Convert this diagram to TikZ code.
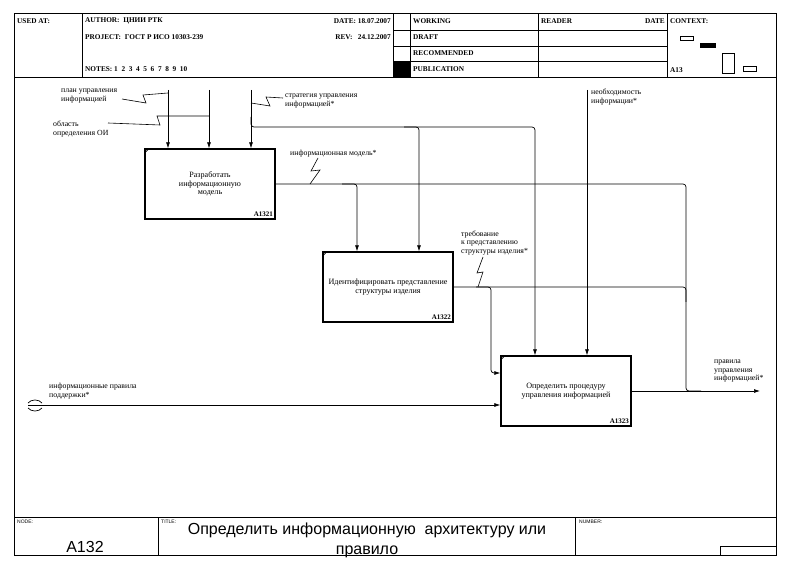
\documentclass[tikz,border=0pt]{standalone}
\usepackage{fontspec}
\setmainfont{Liberation Serif}
\newfontfamily\sansfont{Liberation Sans}
\usetikzlibrary{
  arrows.meta,
  calc
}
\tikzset{
  func/.style={
    draw,
    line width=1.3pt,
    minimum width=130pt,
    minimum height=70pt,
    align=center,
    inner sep=0pt,
    font=\fontsize{8.1}{8.7}\selectfont},
  boxid/.style={anchor=south east, inner sep=2.5pt, font=\bfseries\fontsize{7}{7}\selectfont},
  lbl/.style={anchor=west, align=left, inner sep=0pt, font=\fontsize{7.8}{8.3}\selectfont},
  hdr/.style={anchor=west, inner sep=0pt, font=\bfseries\fontsize{7.3}{7.5}\selectfont},
  tiny/.style={anchor=north west, inner sep=0pt, font=\sansfont\fontsize{5}{5}\selectfont},
  arr/.style={-{Latex[length=6pt,width=4pt]}, line width=0.7pt},
  ln/.style={line width=0.7pt},
  zig/.style={line width=0.6pt}
}

\begin{document}
\begin{tikzpicture}[x=1pt,y=-1pt]
    \useasboundingbox (0,0) rectangle (790,569);
    % frame
    \draw [line width=1pt] (14,14) rectangle (776,555);
    \draw [line width=0.8pt]
    (14,77) -- (776,77)
    (14,517) -- (776,517)
    (82,14) -- (82,77)
    (393,14) -- (393,77)
    (410,14) -- (410,77)
    (538,14) -- (538,77)
    (667,14) -- (667,77)
    (393,30) -- (667,30)
    (393,46) -- (667,46)
    (393,61) -- (667,61)
    (158,517) -- (158,555)
    (575,517) -- (575,555);
    \fill (393,61) rectangle (410,77);
    \draw [line width=0.8pt] (720,546) rectangle (776,555);
    % header
    \node[hdr] (usedat) at (17,21) {USED AT:};
    \node[hdr] (author) at (85,21) {AUTHOR:\ \ ЦНИИ РТК};
    \node[hdr,anchor=east] (date) at (391,21) {DATE:\ 18.07.2007};
    \node[hdr] (project) at (85,37) {PROJECT:\ \ ГОСТ Р ИСО 10303-239};
    \node[hdr,anchor=east] (rev) at (391,37) {REV:\ \ \ 24.12.2007};
    \node[hdr] (notes) at (85,69) {NOTES:\ 1\ \ 2\ \ 3\ \ 4\ \ 5\ \ 6\ \ 7\ \ 8\ \ 9\ \ 10};
    \node[hdr] (working) at (413,21) {WORKING};
    \node[hdr] (draft) at (413,37) {DRAFT};
    \node[hdr] (recom) at (413,53) {RECOMMENDED};
    \node[hdr] (publ) at (413,69) {PUBLICATION};
    \node[hdr] (reader) at (541,21) {READER};
    \node[hdr,anchor=east] (rdate) at (665,21) {DATE};
    \node[hdr] (context) at (670,21) {CONTEXT:};
    \node[hdr] (ctxnode) at (670,70) {A13};
    % context sketch
    \draw [line width=0.6pt] (680,36) rectangle (693,40);
    \fill (700,43) rectangle (716,48);
    \draw [line width=0.6pt] (722,53) rectangle (734,73);
    \draw [line width=0.6pt] (743,66) rectangle (756,71);
    % footer
    \node[tiny] (nodelbl) at (17,520) {NODE:};
    \node[tiny] (titlelbl) at (161,520) {TITLE:};
    \node[tiny] (numlbl) at (579,520) {NUMBER:};
    \node[font=\sansfont\fontsize{16}{16}\selectfont] (nodeno) at (85,547) {A132};
    \node[align=center, font=\sansfont\fontsize{16}{20}\selectfont] (title) at (367,540)
      {Определить информационную\ \ архитектуру или\\правило};
    % functions
    \node[func] (b1) at (210,184) {Разработать\\информационную\\модель};
    \node[func] (b2) at (388,287) {Идентифицировать представление\\структуры изделия};
    \node[func] (b3) at (566,391) {Определить процедуру\\управления информацией};
    \node[boxid] (b1id) at (b1.south east) {A1321};
    \node[boxid] (b2id) at (b2.south east) {A1322};
    \node[boxid] (b3id) at (b3.south east) {A1323};
    \draw [ln] ($(b1.north west)+(0,5)$) -- ($(b1.north west)+(5,0)$);
    \draw [ln] ($(b2.north west)+(0,5)$) -- ($(b2.north west)+(5,0)$);
    \draw [ln] ($(b3.north west)+(0,5)$) -- ($(b3.north west)+(5,0)$);
    % ends of arrows
    \coordinate (plan) at (168,90);
    \coordinate (obl) at (209,90);
    \coordinate (strat) at (251,90);
    \coordinate (need) at (587,90);
    \coordinate (tun) at (28,405);
    \coordinate (out) at (760,391);
    \coordinate (s2) at (419,127);
    \coordinate (s3) at (535,127);
    \coordinate (m1) at (357,184);
    \coordinate (j1) at (686,184);
    \coordinate (m2) at (491,287);
    \coordinate (j2) at (686,287);
    \coordinate (i1) at (491,373);
    % arrows
    \draw [arr] (plan) -- (plan |- b1.north);
    \draw [arr] (obl) -- (obl |- b1.north);
    \draw [arr] (strat) -- (strat |- b1.north);
    \draw [arr,rounded corners=3pt] ($(strat)+(0,27)$) -- (strat |- s3) -- (s3) -- (s3 |- b3.north);
    \draw [arr,rounded corners=3pt] ($(s2)+(-15,0)$) -- (s2) -- (s2 |- b2.north);
    \draw [arr,rounded corners=3pt] (b1.east) -- (m1) -- (m1 |- b2.north);
    \draw [ln,rounded corners=3pt] ($(m1)+(-15,0)$) -- (j1) -- (j1 |- out) -- ++(15,0);
    \draw [arr] (need) -- (need |- b3.north);
    \draw [arr,rounded corners=3pt] (b2.east) -- (m2) -- (i1) -- (i1 -| b3.west);
    \draw [ln,rounded corners=3pt] ($(m2)+(-15,0)$) -- (j2) -- ++(0,15);
    \draw [arr] (tun) -- (tun -| b3.west);
    \draw [arr] (b3.east) -- (out);
    % tunnel
    \draw [ln] (28,403) .. controls (31,399) and (39,399) .. (42,403);
    \draw [ln] (28,408) .. controls (31,412) and (39,412) .. (42,408);
    % labels
    \node[lbl] (Lplan) at (61,96) {план управления\\информацией};
    \node[lbl] (Lobl) at (53,129) {область\\определения ОИ};
    \node[lbl] (Lstrat) at (285,101) {стратегия управления\\информацией*};
    \node[lbl] (Lmod) at (290,154) {информационная модель*};
    \node[lbl] (Ltreb) at (461,243) {требование\\к представлению\\структуры изделия*};
    \node[lbl] (Lneed) at (591,97) {необходимость\\информации*};
    \node[lbl] (Ltun) at (49,391) {информационные правила\\поддержки*};
    \node[lbl] (Lout) at (714,371) {правила\\управления\\информацией*};
    % squiggles
    \draw [zig] (122,99) -- (146,103) -- (143,95) -- ($(plan)+(0,3)$);
    \draw [zig] (108,123) -- (160,125) -- (157,116) -- ($(obl)+(0,26)$);
    \draw [zig] (283,98) -- (266,97) -- (270,106) -- ($(strat)+(0,13)$);
    \draw [zig] (318,158) -- (311,171) -- (320,170) -- (310,184);
    \draw [zig] (483,257) -- (477,273) -- (483,272) -- (478,287);
\end{tikzpicture}
\end{document}
